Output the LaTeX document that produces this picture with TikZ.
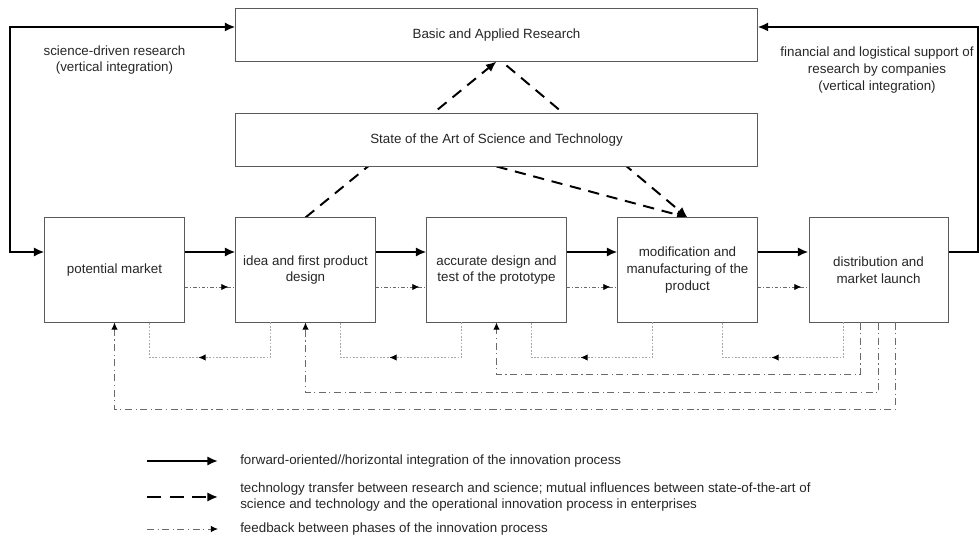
\documentclass[tikz,border=0pt]{standalone}
\usepackage{fontspec}
\setmainfont{Liberation Sans}
\usepackage{tikz}
\usepackage{xcolor}
\usetikzlibrary{arrows.meta,positioning,calc,backgrounds,decorations.markings}
\definecolor{ink}{HTML}{262626}
\definecolor{boxgray}{HTML}{5A5A5A}
\definecolor{linegray}{HTML}{6A6A6A}
\definecolor{lightgray}{HTML}{A8A8A8}

\begin{document}
\begin{tikzpicture}[x=0.025cm,y=0.025cm,>=Latex,
    every node/.style={font=\fontsize{9.5}{11.8}\selectfont\color{ink}},
    phase/.style={draw=boxgray,fill=white,line width=0.7pt,minimum width=3.475cm,
      minimum height=2.6cm,align=center,inner sep=2pt},
    wide/.style={phase,minimum width=13.025cm,minimum height=1.3cm},
    note/.style={align=center,inner sep=0pt},
    flow/.style={line width=1.5pt,-{Latex[length=7.5pt,width=6.5pt]}},
    transfer/.style={line width=1.4pt,dash pattern=on 8pt off 5.5pt,
      -{Latex[length=7.5pt,width=6.5pt]}},
    fwdback/.style={linegray,line width=0.5pt,
      dash pattern=on 2.5pt off 1.5pt on 0.6pt off 1.5pt},
    shortback/.style={lightgray,line width=0.6pt,dash pattern=on 1.2pt off 1.2pt},
    longback/.style={linegray,line width=0.7pt,
      dash pattern=on 5pt off 2.5pt on 0.8pt off 2.5pt,
      -{Latex[length=5pt,width=4.5pt,color=black]}},
    tipat/.style={postaction={decorate},decoration={markings,
      mark=at position #1 with {\arrow[black]{Latex[length=5pt,width=4.5pt]}}}}]
  \useasboundingbox (0,0) rectangle (979,537);

  % research and state of the art
  \node[wide] (research) at (496.5,502) {Basic and Applied Research};
  \node[wide] (state) at (496.5,397) {State of the Art of Science and Technology};

  % phases of the innovation process
  \node[phase] (p1) at (114.5,267) {potential market};
  \node[phase] (p2) at (305.5,267) {idea and first product\\design};
  \node[phase] (p3) at (496.5,267) {accurate design and\\test of the prototype};
  \node[phase] (p4) at (687.5,267) {modification and\\manufacturing of the\\product};
  \node[phase] (p5) at (878.5,267) {distribution and\\market launch};

  % forward flow and forward feedback
  \foreach \a/\b in {p1/p2,p2/p3,p3/p4,p4/p5} {
    \draw[flow] ($(\a.east)+(0,18)$) -- ($(\b.west)+(0,18)$);
    \draw[fwdback,tipat=0.86] ($(\a.east)+(0,-17)$) -- ($(\b.west)+(0,-17)$);
    \draw[shortback,tipat=0.56] ($(\b.south)+(-35,0)$) -- ++(0,-35) -| ($(\a.south)+(35,0)$);
  }

  % long feedback from the market launch
  \draw[longback] ($(p5.south)+(-18.5,0)$) -- ++(0,-52) -| (p3.south);
  \draw[longback] (p5.south) -- ++(0,-70) -| (p2.south);
  \draw[longback] ($(p5.south)+(17,0)$) -- ++(0,-87) -| (p1.south);

  % vertical integration
  \coordinate (lc) at (10,510);
  \coordinate (rc) at (978,510);
  \draw[flow,{Latex[length=7.5pt,width=6.5pt]}-{Latex[length=7.5pt,width=6.5pt]}]
    ($(research.west)+(0,8)$) -- (lc) |- ($(p1.west)+(0,18)$);
  \draw[flow] ($(p5.east)+(0,18)$) -| (rc) -- ($(research.east)+(0,8)$);
  \node[note] (sdr) at (114.5,477) {science-driven research\\(vertical integration)};
  \node[note] (fls) at (877,467)
    {financial and logistical support of\\research by companies\\(vertical integration)};

  % technology transfer (behind the state box)
  \begin{scope}[on background layer]
    \draw[transfer] (p2.north) -- (research.south);
    \draw[transfer] ($(research.south)+(10,-4)$) -- (p4.north);
    \draw[transfer] (state.south) -- (p4.north);
  \end{scope}

  % legend
  \coordinate (la1) at (147,76);  \coordinate (lb1) at (218,76);
  \coordinate (la2) at (147,40);  \coordinate (lb2) at (218,40);
  \coordinate (la3) at (147,8);   \coordinate (lb3) at (218,8);
  \draw[flow] (la1) -- (lb1);
  \draw[transfer,dash pattern=on 10pt off 6pt] (la2) -- (lb2);
  \draw[longback] (la3) -- (lb3);
  \node[anchor=west,inner sep=0pt] (lt1) at (240,76)
    {forward-oriented//horizontal integration of the innovation process};
  \node[anchor=west,align=left,inner sep=0pt] (lt2) at (240,40)
    {technology transfer between research and science; mutual influences between state-of-the-art of\\science and technology and the operational innovation process in enterprises};
  \node[anchor=west,inner sep=0pt] (lt3) at (240,8)
    {feedback between phases of the innovation process};
\end{tikzpicture}
\end{document}
